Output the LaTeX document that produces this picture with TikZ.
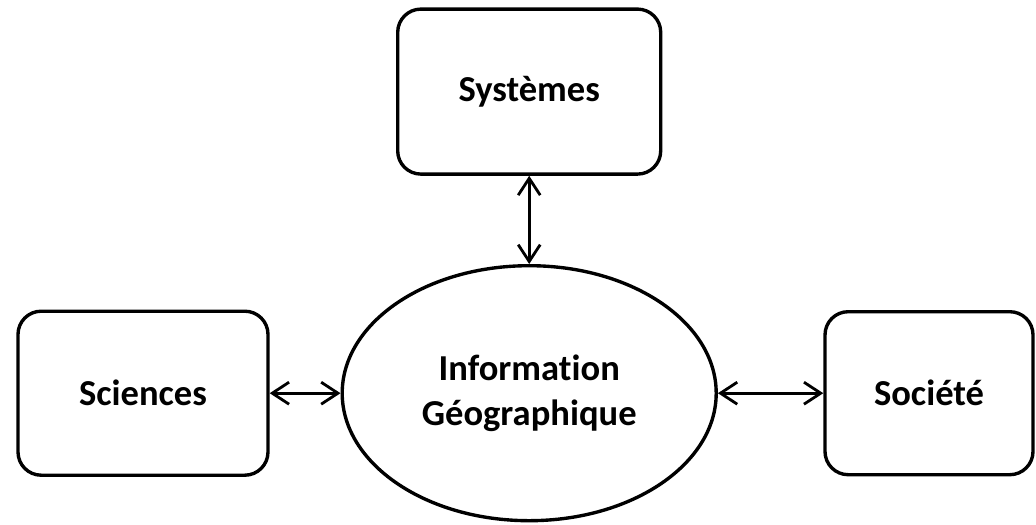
\documentclass[tikz,border=0pt]{standalone}
\usepackage{fontspec}
\setmainfont{Carlito}[Ligatures=NoCommon]
\usetikzlibrary{arrows.meta,shapes.geometric}

\begin{document}
\begin{tikzpicture}[>={Straight Barb[length=4.2mm,width=5.5mm]},
                every node/.style={font=\bfseries\fontsize{26}{32}\selectfont, align=center},
                pole/.style={draw, line width=2.4pt, rounded corners=5.8mm},
                link/.style={<->, line width=2pt}]
                \useasboundingbox (0,0) rectangle (25.9,13.1);

                % the three surrounding fields
                \node[pole, minimum width=6.575cm, minimum height=4.125cm] (sys) at (13.23,10.81) {Systèmes};
                \node[pole, minimum width=6.25cm, minimum height=4.1cm] (sci) at (3.575,3.27) {Sciences};
                \node[pole, minimum width=5.2cm, minimum height=4.075cm] (soc) at (23.225,3.27) {Société};

                % the centre
                \node[draw, ellipse, line width=2.4pt, inner sep=0pt, minimum width=9.35cm, minimum height=6.375cm] (info) at (13.23,3.27) {Information\\Géographique};

                \draw[link] (sys) -- (info);
                \draw[link] (sci) -- (info);
                \draw[link] (soc) -- (info);
            \end{tikzpicture}
\end{document}
